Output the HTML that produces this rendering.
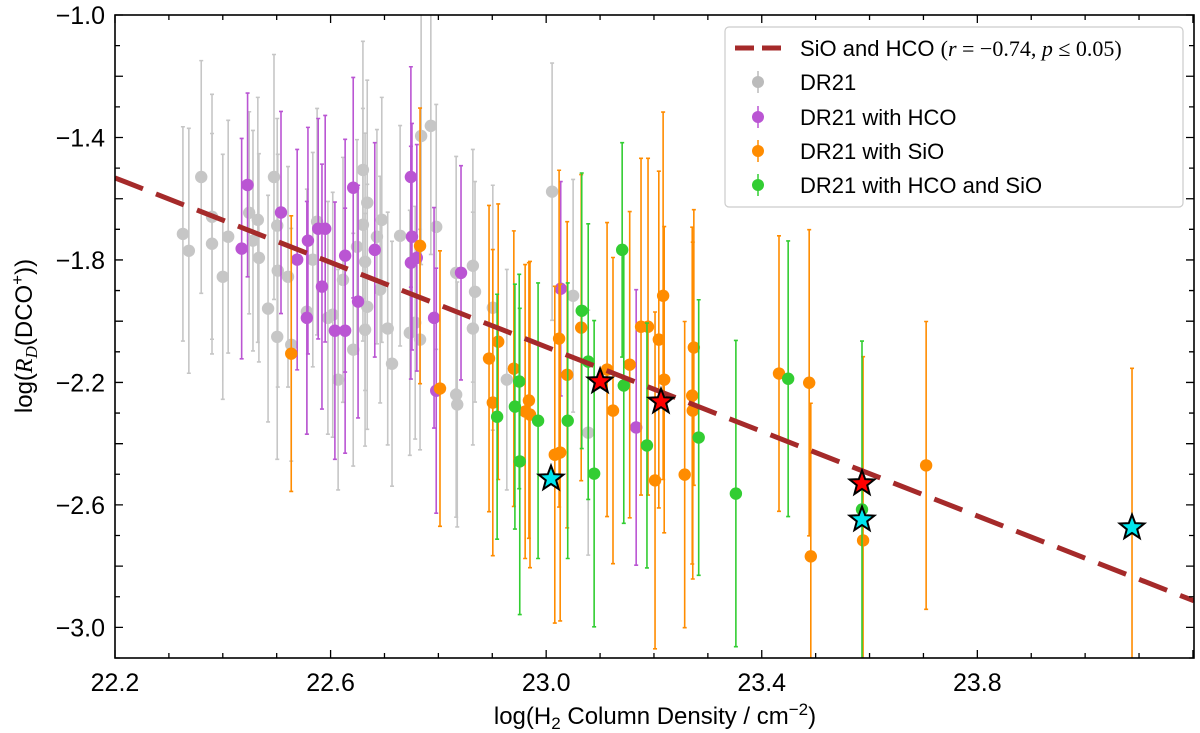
<!DOCTYPE html>
<html><head><meta charset="utf-8"><style>
html,body{margin:0;padding:0;background:#fff}
svg{display:block;font-family:"Liberation Sans","DejaVu Sans",sans-serif}
</style></head><body>
<svg id="chart" width="1200" height="733" viewBox="0 0 1200 733" xmlns="http://www.w3.org/2000/svg">
<rect x="0" y="0" width="1200" height="733" fill="#fff"/>
<g id="marks"></g>
<g id="axes"></g>
<text x="655" y="724" font-size="24" text-anchor="middle">log(H<tspan font-size="17" dy="5">2</tspan><tspan dy="-5"> Column Density / cm</tspan><tspan font-size="17" dy="-9">−2</tspan><tspan dy="9">)</tspan></text>
<text transform="translate(32,336) rotate(-90)" font-size="24" text-anchor="middle">log(<tspan font-family="Liberation Serif" font-style="italic">R</tspan><tspan font-family="Liberation Serif" font-style="italic" font-size="17" dy="5">D</tspan><tspan dy="-5">(DCO</tspan><tspan font-size="17" dy="-9">+</tspan><tspan dy="9">))</tspan></text>
<g id="legend">
<rect x="725" y="27" width="458" height="180" rx="4" fill="#fff" fill-opacity="0.85" stroke="#ccc" stroke-width="1.2"/>
<g><line x1="735" y1="48" x2="782" y2="48" stroke="#a52a2a" stroke-width="5" stroke-dasharray="19,8"/>
<text x="800" y="56" font-size="22">SiO and HCO <tspan font-family="Liberation Serif">(<tspan font-style="italic">r</tspan> = −0.74, <tspan font-style="italic">p</tspan> ≤ 0.05)</tspan></text></g>
<g><line x1="758" y1="71" x2="758" y2="93" stroke="#bbb" stroke-width="1.5"/><circle cx="758" cy="82" r="6" fill="#bbb"/><text x="800" y="90" font-size="22">DR21</text></g>
<g><line x1="758" y1="106" x2="758" y2="128" stroke="#ba55d3" stroke-width="1.5"/><circle cx="758" cy="117" r="6" fill="#ba55d3"/><text x="800" y="125" font-size="22">DR21 with HCO</text></g>
<g><line x1="758" y1="140" x2="758" y2="162" stroke="#ff8c00" stroke-width="1.5"/><circle cx="758" cy="151" r="6" fill="#ff8c00"/><text x="800" y="159" font-size="22">DR21 with SiO</text></g>
<g><line x1="758" y1="174" x2="758" y2="196" stroke="#32cd32" stroke-width="1.5"/><circle cx="758" cy="185" r="6" fill="#32cd32"/><text x="800" y="193" font-size="22">DR21 with HCO and SiO</text></g>
</g>
</svg>
<script>
const grayX=[22.326,22.337,22.360,22.380,22.380,22.400,22.410,22.449,22.456,22.465,22.467,22.484,22.495,22.501,22.502,22.501,22.521,22.527,22.556,22.567,22.575,22.595,22.604,22.614,22.623,22.642,22.649,22.660,22.668,22.660,22.664,22.668,22.664,22.686,22.695,22.692,22.706,22.714,22.729,22.747,22.757,22.766,22.768,22.786,22.796,22.833,22.833,22.835,22.864,22.868,22.864,22.901,22.927,23.011,23.050,23.078];
const grayY=[-1.715,-1.770,-1.529,-1.659,-1.747,-1.855,-1.724,-1.646,-1.737,-1.669,-1.793,-1.959,-1.529,-1.688,-1.835,-2.051,-1.855,-2.077,-1.969,-1.799,-1.675,-1.989,-1.979,-2.191,-1.865,-2.093,-1.757,-1.506,-1.613,-1.685,-1.806,-1.953,-2.028,-1.724,-1.669,-1.897,-2.024,-2.139,-1.721,-2.038,-2.005,-2.060,-1.395,-1.362,-1.692,-1.842,-2.240,-2.272,-1.819,-1.904,-2.024,-1.956,-2.191,-1.577,-1.917,-2.364];
const grayErr=[0.35,0.4,0.38,0.4,0.36,0.4,0.38,0.33,0.36,0.4,0.34,0.37,0.4,0.35,0.38,0.4,0.36,0.38,0.4,0.35,0.37,0.38,0.4,0.36,0.4,0.38,0.35,0.42,0.4,0.38,0.42,0.4,0.38,0.35,0.4,0.37,0.38,0.4,0.36,0.4,0.38,0.36,0.42,0.42,0.4,0.38,0.4,0.4,0.38,0.36,0.38,0.4,0.36,0.42,0.38,0.4];
const hcoX=[22.435,22.446,22.508,22.538,22.558,22.556,22.577,22.590,22.584,22.608,22.627,22.627,22.642,22.651,22.682,22.749,22.751,22.749,22.760,22.792,22.796,22.842,23.027,23.167];
const hcoY=[-1.763,-1.555,-1.645,-1.799,-1.737,-1.989,-1.698,-1.698,-1.887,-2.031,-2.031,-1.786,-1.564,-1.936,-1.767,-1.529,-1.724,-1.809,-1.793,-1.989,-2.227,-1.842,-1.894,-2.347];
const hcoErr=[0.36,0.3,0.33,0.36,0.37,0.38,0.36,0.37,0.4,0.42,0.4,0.38,0.36,0.38,0.35,0.36,0.37,0.38,0.37,0.36,0.4,0.35,0.35,0.45];
const sioX=[22.911,22.894,22.940,22.901,22.968,22.961,22.970,23.024,23.039,23.016,23.026,23.065,23.113,23.124,23.155,23.176,23.189,23.217,23.209,23.219,23.202,23.257,23.274,23.271,23.272,23.432,23.488,23.491,23.588,23.705,22.527,22.766,22.803,24.087];
const sioY=[-2.067,-2.122,-2.155,-2.266,-2.259,-2.295,-2.305,-2.057,-2.175,-2.436,-2.429,-2.021,-2.158,-2.292,-2.142,-2.018,-2.018,-1.917,-2.060,-2.191,-2.520,-2.501,-2.086,-2.243,-2.292,-2.171,-2.201,-2.768,-2.716,-2.471,-2.106,-1.754,-2.220,-2.674];
const sioErr=[0.45,0.5,0.45,0.5,0.45,0.48,0.5,0.55,0.5,0.55,0.55,0.5,0.48,0.5,0.5,0.55,0.55,0.6,0.55,0.5,0.55,0.5,0.45,0.55,0.55,0.45,0.5,0.5,0.6,0.47,0.45,0.45,0.45,0.52];
const bothX=[23.141,23.066,23.078,22.950,22.942,22.909,22.985,23.040,22.951,23.089,23.144,23.187,23.283,23.352,23.449,23.586];
const bothY=[-1.767,-1.966,-2.132,-2.197,-2.279,-2.312,-2.325,-2.325,-2.458,-2.498,-2.210,-2.406,-2.380,-2.563,-2.188,-2.615];
const bothErr=[0.35,0.45,0.45,0.35,0.4,0.4,0.45,0.45,0.5,0.5,0.45,0.4,0.45,0.5,0.45,0.55];
const redStarX=[23.100,23.213,23.586];
const redStarY=[-2.197,-2.263,-2.530];
const cyanStarX=[23.009,23.586,24.087];
const cyanStarY=[-2.514,-2.648,-2.674];
const fitIntercept=-1.532, fitSlope=-0.69;
const xTicks=[22.2,22.6,23.0,23.4,23.8];
const xTickLabels=["22.2","22.6","23.0","23.4","23.8"];
const yTicks=[-1.0,-1.4,-1.8,-2.2,-2.6,-3.0];
const yTickLabels=["−1.0","−1.4","−1.8","−2.2","−2.6","−3.0"];

const L=115,R=1194,T=15,B=658,X0=22.2,X1=24.202,Y0=-3.1,Y1=-1.0;
const sx=v=>L+(v-X0)/(X1-X0)*(R-L);
const sy=v=>B-(v-Y0)/(Y1-Y0)*(B-T);
const NS="http://www.w3.org/2000/svg";
const marks=document.getElementById('marks'),axes=document.getElementById('axes');
function mk(tag,parent,attrs){const e=document.createElementNS(NS,tag);for(const k in attrs)e.setAttribute(k,attrs[k]);parent.appendChild(e);return e;}
const clip=mk('clipPath',marks,{id:'pc'});mk('rect',clip,{x:L,y:T,width:R-L,height:B-T});
const plot=mk('g',marks,{'clip-path':'url(#pc)'});

function series(xs,ys,es,color,op,name){
  const g=mk('g',plot,{opacity:op});
  
  
  for(let i=0;i<xs.length;i++){
    const x=sx(xs[i]),y1=sy(ys[i]+es[i]),y2=sy(ys[i]-es[i]);
    const bar=mk('path',g,{d:`M${x},${y1}V${y2}M${x-2},${y1}h4M${x-2},${y2}h4`,stroke:color,'stroke-width':1.6,fill:'none'});
    
    
  }
  for(let i=0;i<xs.length;i++){
    const c=mk('circle',g,{cx:sx(xs[i]),cy:sy(ys[i]),r:6.2,fill:color});
    
    
  }
}
series(grayX,grayY,grayErr,'#b4b4b4',0.75,'dr21');
series(hcoX,hcoY,hcoErr,'#ba55d3',1,'dr21-hco');
series(sioX,sioY,sioErr,'#ff8c00',1,'dr21-sio');
series(bothX,bothY,bothErr,'#32cd32',1,'dr21-hco-sio');

const fit=mk('line',plot,{x1:sx(X0),y1:sy(fitIntercept),x2:sx(X1),y2:sy(fitIntercept+fitSlope*(X1-X0)),stroke:'#a52a2a','stroke-width':5,'stroke-dasharray':'30,14'});



function star(cx,cy,r){let p=[];for(let k=0;k<10;k++){const a=-Math.PI/2+k*Math.PI/5;const rr=k%2?r*0.42:r;p.push((cx+rr*Math.cos(a)).toFixed(1)+','+(cy+rr*Math.sin(a)).toFixed(1));}return p.join(' ');}
for(let i=0;i<redStarX.length;i++){
  const s=mk('polygon',plot,{points:star(sx(redStarX[i]),sy(redStarY[i]),13),fill:'#ff0000',stroke:'#000','stroke-width':2});
  
  
}
for(let i=0;i<cyanStarX.length;i++){
  const s=mk('polygon',plot,{points:star(sx(cyanStarX[i]),sy(cyanStarY[i]),13),fill:'#00e5ee',stroke:'#000','stroke-width':2});
  
  
}

const fr=mk('rect',axes,{x:L,y:T,width:R-L,height:B-T,fill:'none',stroke:'#000','stroke-width':1.6});


for(let v=22.2;v<=24.2+1e-6;v+=0.1){
  const x=sx(v);const major=Math.abs(Math.round(v*10)%4-2)===0;const len=major?8:5;
  mk('path',axes,{d:`M${x},${B}v${-len}M${x},${T}v${len}`,stroke:'#000','stroke-width':1.3});
}
for(let v=-3.1;v<=-1.0+1e-6;v+=0.1){
  const y=sy(v);const major=Math.abs(Math.round(v*10))%2===0;const len=major?8:5;
  mk('path',axes,{d:`M${L},${y}h${len}M${R},${y}h${-len}`,stroke:'#000','stroke-width':1.3});
}
for(let i=0;i<xTicks.length;i++){
  const t=mk('text',axes,{x:sx(xTicks[i]),y:B+33,'font-size':25,'text-anchor':'middle'});
  t.textContent=xTickLabels[i];
  
  
}
for(let i=0;i<yTicks.length;i++){
  const t=mk('text',axes,{x:L-10,y:sy(yTicks[i])+9,'font-size':25,'text-anchor':'end'});
  t.textContent=yTickLabels[i];
  
  
}
</script>
</body></html>
